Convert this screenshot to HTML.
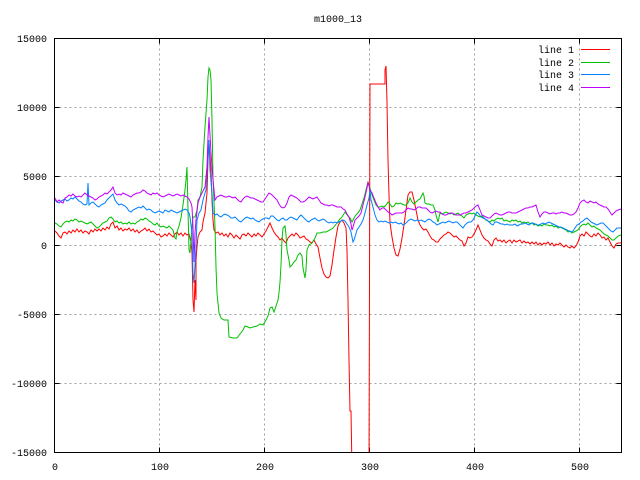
<!DOCTYPE html>
<html><head><meta charset="utf-8"><style>
html,body{margin:0;padding:0;background:#fff;}
svg{display:block;}
text{font-family:"Liberation Mono","DejaVu Sans Mono",monospace;font-size:10px;fill:#000;}
</style></head><body>
<svg width="640" height="480" viewBox="0 0 640 480" xmlns="http://www.w3.org/2000/svg">
<rect x="0" y="0" width="640" height="480" fill="#fff"/>
<defs><clipPath id="pc"><rect x="54.5" y="38.5" width="567" height="414"/></clipPath></defs>
<!-- grid -->
<g stroke="#a0a0a0" stroke-width="1" stroke-dasharray="2,3" fill="none">
<line x1="159.5" y1="38.5" x2="159.5" y2="452.5"/>
<line x1="264.5" y1="38.5" x2="264.5" y2="452.5"/>
<line x1="369.5" y1="38.5" x2="369.5" y2="452.5"/>
<line x1="474.5" y1="38.5" x2="474.5" y2="452.5"/>
<line x1="579.5" y1="38.5" x2="579.5" y2="452.5"/>
<line x1="54.5" y1="107.5" x2="621.5" y2="107.5"/>
<line x1="54.5" y1="176.5" x2="621.5" y2="176.5"/>
<line x1="54.5" y1="245.5" x2="621.5" y2="245.5"/>
<line x1="54.5" y1="314.5" x2="621.5" y2="314.5"/>
<line x1="54.5" y1="383.5" x2="621.5" y2="383.5"/>
</g>
<!-- ticks -->
<g stroke="#000" stroke-width="1">
<line x1="54.5" y1="38.5" x2="59.5" y2="38.5"/><line x1="621.5" y1="38.5" x2="616.5" y2="38.5"/>
<line x1="54.5" y1="107.5" x2="59.5" y2="107.5"/><line x1="621.5" y1="107.5" x2="616.5" y2="107.5"/>
<line x1="54.5" y1="176.5" x2="59.5" y2="176.5"/><line x1="621.5" y1="176.5" x2="616.5" y2="176.5"/>
<line x1="54.5" y1="245.5" x2="59.5" y2="245.5"/><line x1="621.5" y1="245.5" x2="616.5" y2="245.5"/>
<line x1="54.5" y1="314.5" x2="59.5" y2="314.5"/><line x1="621.5" y1="314.5" x2="616.5" y2="314.5"/>
<line x1="54.5" y1="383.5" x2="59.5" y2="383.5"/><line x1="621.5" y1="383.5" x2="616.5" y2="383.5"/>
<line x1="54.5" y1="452.5" x2="59.5" y2="452.5"/><line x1="621.5" y1="452.5" x2="616.5" y2="452.5"/>
<line x1="54.5" y1="452.5" x2="54.5" y2="447.5"/><line x1="54.5" y1="38.5" x2="54.5" y2="43.5"/>
<line x1="159.5" y1="452.5" x2="159.5" y2="447.5"/><line x1="159.5" y1="38.5" x2="159.5" y2="43.5"/>
<line x1="264.5" y1="452.5" x2="264.5" y2="447.5"/><line x1="264.5" y1="38.5" x2="264.5" y2="43.5"/>
<line x1="369.5" y1="452.5" x2="369.5" y2="447.5"/><line x1="369.5" y1="38.5" x2="369.5" y2="43.5"/>
<line x1="474.5" y1="452.5" x2="474.5" y2="447.5"/><line x1="474.5" y1="38.5" x2="474.5" y2="43.5"/>
<line x1="579.5" y1="452.5" x2="579.5" y2="447.5"/><line x1="579.5" y1="38.5" x2="579.5" y2="43.5"/>
</g>
<!-- y labels -->
<g text-anchor="end">
<text x="47" y="42">15000</text>
<text x="47" y="111">10000</text>
<text x="47" y="180">5000</text>
<text x="47" y="249">0</text>
<text x="47" y="318">-5000</text>
<text x="47" y="387">-10000</text>
<text x="47" y="456">-15000</text>
</g>
<!-- x labels -->
<g text-anchor="middle">
<text x="55" y="470">0</text>
<text x="160" y="470">100</text>
<text x="265" y="470">200</text>
<text x="370" y="470">300</text>
<text x="475" y="470">400</text>
<text x="580" y="470">500</text>
</g>
<text x="338" y="22" text-anchor="middle">m1000_13</text>
<!-- series -->
<g clip-path="url(#pc)" fill="none" stroke-width="1" stroke-linejoin="miter">
<polyline stroke="#ff0000" points="55,231 57,233 59,236 61,238 63,233 65,232 67,234 69,231 71,233 73,230 75,232 77,229 79,232 81,230 83,233 85,231 87,232 89,234 91,230 93,232 95,229 97,231 99,229 101,231 103,228 105,230 107,227 109,229 111,224 113,222 115,228 117,226 119,230 121,228 123,231 125,229 127,230 129,228 131,231 133,229 135,232 137,230 139,233 141,231 143,230 145,228 147,231 149,229 151,232 153,231 155,233 157,235 159,234 161,237 163,236 165,234 167,236 169,233 171,235 173,237 175,234 177,232 179,235 181,233 183,236 185,233 187,235 189,234 191,242 192,253 193,300 194,312 195,280 196,300 196,260 197,247 198,237 200,232 202,230 203,222 205,213 207,193 208,160 209,143 211,170 212,200 213,220 214,230 216,233 218,232 220,235 222,233 224,236 226,234 228,237 230,233 232,235 234,238 236,235 238,237 240,239 242,235 244,234 246,236 248,233 250,235 252,237 254,234 256,236 258,233 260,235 262,237 264,234 266,231 268,227 270,223 272,228 274,232 276,235 278,237 280,240 282,238 284,241 286,243 288,238 290,236 292,234 294,236 296,233 298,235 300,238 302,237 304,236 306,239 308,240 310,242 312,243 314,240 316,244 318,247 320,258 322,268 324,274 326,277 328,278 330,276 332,265 334,250 336,237 338,226 340,222 342,220 344,223 346,228 347,250 348,300 349,360 350,411 351,411 352,470"/>
<polyline stroke="#ff0000" points="369,470 370,84 385,84 385,70 386,66 387,102 388,160 389,195 390,223 392,237 394,248 396,255 398,256 400,249 402,238 404,225 406,210 408,195 410,192 412,192 414,200 416,210 418,220 420,225 422,228 424,230 426,229 428,232 430,236 432,239 434,240 436,242 438,242 440,239 442,237 444,235 446,234 448,232 450,233 452,235 454,237 456,236 458,238 460,240 462,241 464,246 466,243 468,237 470,238 472,237 474,234 476,230 478,225 480,230 482,235 484,238 486,240 488,241 490,244 492,246 494,240 496,238 498,241 500,240 502,242 504,240 506,243 508,241 510,240 512,243 514,240 516,242 518,241 520,240 522,243 524,241 526,243 528,242 530,244 532,242 534,244 536,242 538,245 540,243 542,245 544,243 546,244 548,242 550,245 552,243 554,246 556,244 558,245 560,243 562,245 564,247 566,245 568,247 570,248 572,246 574,248 576,246 578,242 580,236 582,234 584,236 586,232 588,234 590,236 592,237 594,234 596,236 598,233 600,235 602,238 604,237 606,240 608,238 610,242 612,246 614,248 616,244 618,243 621,243"/>
<polyline stroke="#00c000" points="55,223 57,224 59,226 61,227 63,224 65,222 67,221 69,222 71,220 73,221 75,219 77,220 79,222 81,221 83,222 85,223 87,224 89,223 91,222 93,224 95,226 97,228 99,227 101,225 103,223 105,222 107,221 109,218 111,217 113,219 115,222 117,221 119,223 121,222 123,224 125,223 127,224 129,222 131,224 133,223 135,224 137,222 139,221 141,219 143,220 145,218 147,219 149,221 151,222 153,224 155,225 157,223 159,226 161,227 163,226 165,227 167,228 169,226 171,228 173,230 175,238 176,239 177,232 179,226 181,218 183,205 185,190 186,180 187,167 188,210 189,250 190,253 191,240 192,227 193,217 195,217 197,210 198,200 200,197 202,187 203,160 205,127 207,100 208,77 209,68 210,70 211,80 212,120 213,177 215,227 216,267 217,293 219,313 221,318 224,320 228,320 229,337 233,338 237,338 240,334 243,330 245,326 248,327 250,328 253,327 257,326 260,324 263,325 266,320 268,316 270,308 272,307 274,312 276,306 278,300 279,293 280,282 281,265 282,240 283,228 285,226 286,235 287,250 289,260 290,267 292,265 294,262 296,260 298,255 300,253 302,256 303,268 305,278 306,270 307,250 309,245 312,243 315,238 317,233 320,233 323,232 326,232 330,230 333,228 337,223 340,219 342,217 345,212 348,216 350,218 352,222 354,218 356,215 358,213 360,210 362,204 364,198 366,190 368,182 370,188 372,195 374,200 376,205 378,207 380,207 382,206 384,207 386,205 388,202 390,204 392,207 394,206 396,203 398,204 400,203 402,204 404,205 406,205 408,203 410,198 412,202 414,204 416,202 418,200 420,199 422,195 423,193 424,196 425,203 427,204 429,204 431,205 433,205 435,210 436,215 438,222 440,213 442,214 444,213 446,212 448,213 450,214 452,213 454,215 456,214 458,213 460,215 462,216 464,218 466,215 468,214 470,213 472,214 474,213 476,215 478,216 480,217 482,216 484,218 486,220 488,221 490,222 492,220 494,221 496,219 498,218 500,219 502,218 504,221 506,220 508,221 510,222 512,220 514,221 516,220 518,222 520,221 522,223 524,222 526,223 528,222 530,224 532,223 534,225 536,224 538,226 540,225 542,226 544,224 546,225 548,225 550,226 552,225 554,227 556,226 558,228 560,227 562,228 564,229 566,230 568,232 570,231 572,233 574,232 576,231 578,230 580,227 582,225 584,224 586,225 588,223 590,225 592,227 594,226 596,228 598,229 600,230 602,232 604,234 606,235 608,236 610,238 612,240 614,240 616,238 618,236 621,235"/>
<polyline stroke="#0080ff" points="55,200 57,202 59,203 61,201 63,200 65,199 67,201 69,200 71,198 73,199 75,197 77,199 79,201 81,202 83,204 85,205 87,204 88,183 89,205 91,203 93,202 95,204 97,206 99,207 101,205 103,204 105,203 107,200 109,198 111,196 113,194 115,200 117,203 119,205 121,204 123,205 125,206 127,208 129,211 131,212 133,210 135,209 137,208 139,207 141,208 143,206 145,208 147,210 149,209 151,210 153,212 155,213 157,212 159,211 161,212 163,213 165,210 167,211 169,212 171,210 173,211 175,212 177,213 179,212 181,211 183,210 185,209 187,210 189,213 190,217 192,233 193,273 194,283 195,265 196,247 197,220 199,213 201,210 203,200 205,193 206,190 207,170 209,140 210,170 212,193 213,213 215,215 217,214 219,216 221,217 223,215 225,214 227,215 229,216 231,218 233,218 235,217 237,219 239,221 241,222 243,220 245,218 247,217 249,218 251,219 253,218 255,220 257,221 259,222 261,220 263,219 265,218 267,218 269,219 271,216 273,216 275,218 277,220 279,221 281,219 283,218 285,220 287,220 289,218 291,217 293,218 295,219 297,220 299,217 301,215 303,217 305,219 307,221 309,222 311,220 313,219 315,218 317,220 319,221 321,220 323,219 325,220 327,222 329,223 331,222 333,223 335,222 337,223 339,222 341,221 343,220 345,221 347,224 349,227 351,232 353,242 354,240 355,237 357,230 359,227 361,224 363,220 365,213 367,205 369,198 370,190 371,200 373,207 375,215 377,220 379,222 381,221 383,222 385,221 387,222 389,223 391,222 393,223 395,222 397,223 399,224 401,223 403,225 405,224 407,222 409,220 411,219 413,220 415,221 417,220 419,221 421,220 423,221 425,222 427,220 429,219 431,220 433,222 435,223 437,225 439,224 441,223 443,222 445,223 447,222 449,221 451,222 453,223 455,222 457,222 459,224 461,226 463,228 465,225 467,223 469,222 471,222 473,220 475,216 477,212 479,214 481,217 483,218 485,219 487,220 489,222 491,224 493,225 495,222 497,222 499,223 501,224 503,224 505,225 507,224 509,225 511,225 513,225 515,224 517,226 519,225 521,224 523,224 525,223 527,224 529,225 531,223 533,223 535,224 537,225 539,225 541,224 543,223 545,224 547,223 549,222 551,223 553,224 555,225 557,226 559,227 561,227 563,228 565,229 567,230 569,231 571,232 573,231 575,228 577,225 579,224 581,222 583,221 585,219 587,218 589,220 591,222 593,223 595,224 597,225 599,224 601,223 603,223 605,225 607,227 609,229 611,231 613,232 615,230 617,228 619,228 621,228"/>
<polyline stroke="#c000ff" points="55,198 57,202 59,200 61,202 63,203 65,198 67,197 69,195 71,196 73,194 75,196 77,197 79,196 81,197 83,195 85,193 87,195 89,196 91,197 93,198 95,200 97,199 99,197 101,196 103,195 105,193 107,194 109,192 111,190 113,187 115,193 117,195 119,194 121,195 123,193 125,194 127,195 129,196 131,197 133,195 135,194 137,193 139,193 141,192 143,190 145,191 147,193 149,194 151,195 153,193 155,194 157,193 159,195 161,196 163,197 165,196 167,195 169,194 171,195 173,196 175,195 177,194 179,195 181,196 183,195 185,196 187,197 189,199 191,203 192,207 193,227 194,262 195,233 196,220 198,203 200,197 202,193 205,187 207,167 208,137 209,117 211,153 213,180 215,200 217,197 219,196 221,195 223,196 225,197 227,197 229,196 231,197 233,198 235,197 237,199 239,201 241,202 243,199 245,197 247,196 249,197 251,198 253,198 255,199 257,200 259,201 261,202 263,202 265,199 267,196 269,193 271,194 273,196 275,198 277,200 279,204 281,207 283,208 285,207 287,203 289,197 291,195 293,196 295,197 297,198 299,200 301,202 303,202 305,201 307,199 309,197 311,198 313,199 315,198 317,197 319,200 321,203 323,204 325,205 327,205 329,206 331,205 333,205 335,206 337,207 339,207 341,207 343,209 345,210 347,214 349,217 351,224 352,230 353,227 355,220 357,218 359,216 361,213 363,205 365,197 367,188 368,182 370,190 372,193 374,198 376,203 378,207 380,210 382,208 384,208 386,210 388,212 390,213 392,215 394,214 396,213 398,213 400,213 402,213 404,212 406,210 408,208 410,209 412,209 414,210 416,209 418,207 420,207 422,208 424,208 426,208 428,210 430,212 432,213 434,212 436,211 438,212 440,212 442,214 444,215 446,215 448,214 450,213 452,213 454,214 456,215 458,215 460,215 462,214 464,213 466,213 468,212 470,211 472,210 474,208 476,206 478,205 480,210 482,215 484,216 486,217 488,218 490,218 492,216 494,214 496,213 498,214 500,215 502,215 504,214 506,213 508,212 510,212 512,213 514,213 516,213 518,212 520,211 522,210 524,209 526,208 528,208 530,207 532,207 534,206 536,205 538,212 540,217 542,214 544,212 546,212 548,213 550,214 552,213 554,213 556,214 558,213 560,213 562,212 564,213 566,213 568,214 570,215 572,215 574,214 576,212 578,208 580,203 582,201 584,200 586,202 588,203 590,201 592,202 594,203 596,202 598,204 600,205 602,206 604,207 606,207 608,209 610,212 612,215 614,213 616,211 618,210 621,209"/>
</g>
<!-- border -->
<rect x="54.5" y="38.5" width="567" height="414" fill="none" stroke="#000" stroke-width="1"/>
<!-- legend -->
<g text-anchor="end">
<text x="574" y="53">line 1</text>
<text x="574" y="66">line 2</text>
<text x="574" y="78">line 3</text>
<text x="574" y="91">line 4</text>
</g>
<g stroke-width="1">
<line x1="581" y1="49.5" x2="610" y2="49.5" stroke="#ff0000"/>
<line x1="581" y1="62.5" x2="610" y2="62.5" stroke="#00c000"/>
<line x1="581" y1="74.5" x2="610" y2="74.5" stroke="#0080ff"/>
<line x1="581" y1="87.5" x2="610" y2="87.5" stroke="#c000ff"/>
</g>
</svg>
</body></html>
